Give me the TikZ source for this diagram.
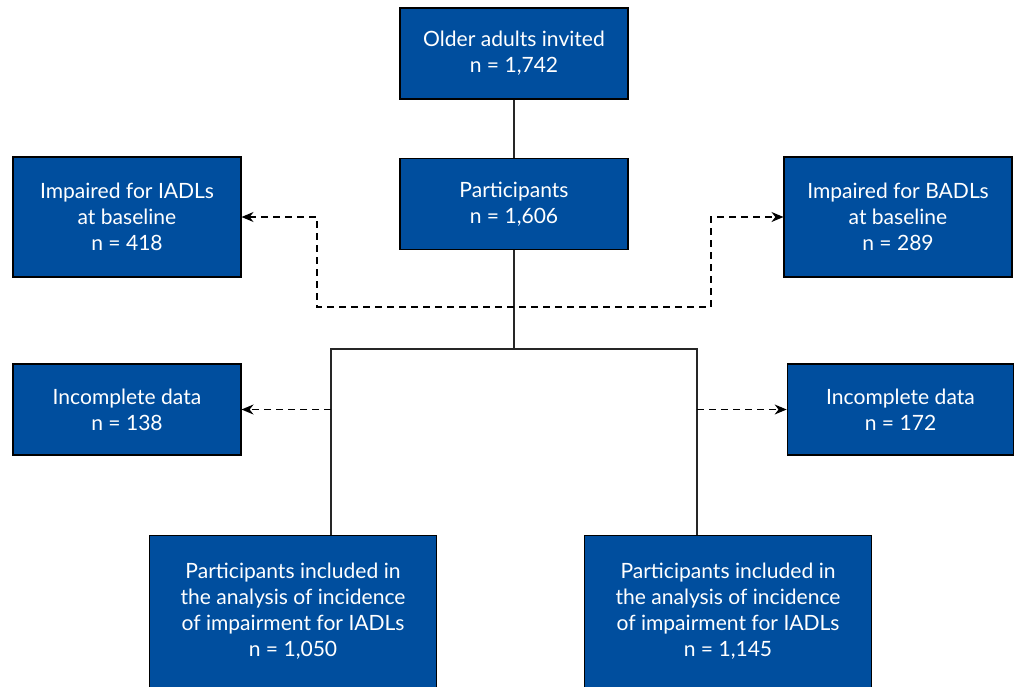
\documentclass[tikz,border=0pt]{standalone}
\usepackage{fontspec}
\setmainfont{Lato}
\usetikzlibrary{arrows.meta}
\definecolor{boxblue}{RGB}{0,78,158}
\tikzset{
  flowbox/.style={draw=black,fill=boxblue,text=white,align=center,
    inner sep=0pt,line width=0.8pt,font=\fontsize{15.8}{19.5}\selectfont},
  smallbox/.style={flowbox,minimum width=171pt,minimum height=68.25pt},
  tallbox/.style={flowbox,minimum width=171pt,minimum height=90pt},
  widebox/.style={flowbox,minimum width=215.25pt,minimum height=114pt},
  link/.style={draw=black!85,line width=0.9pt},
  droplink/.style={draw=black,line width=1pt,dash pattern=on 5.5pt off 3.5pt},
  droptip/.style={-{Stealth[length=9pt,width=7.5pt]}},
}

\begin{document}
\begin{tikzpicture}[x=0.75pt,y=-0.75pt]
\useasboundingbox (0,0) rectangle (1017,686);
% boxes
\node[smallbox] (invited) at (514,53.5) {Older adults invited\\n = 1,742};
\node[smallbox] (part) at (514,204) {Participants\\n = 1,606};
\node[tallbox] (iadl) at (127,217) {Impaired for IADLs\\at baseline\\n = 418};
\node[tallbox] (badl) at (898,217) {Impaired for BADLs\\at baseline\\n = 289};
\node[smallbox] (incL) at (127,409.5) {Incomplete data\\n = 138};
\node[smallbox,minimum width=170pt] (incR) at (900.5,409.5) {Incomplete data\\n = 172};
\node[widebox] (anaL) at (293,611.5) {Participants included in\\the analysis of incidence\\of impairment for IADLs\\n = 1,050};
\node[widebox] (anaR) at (728,611.5) {Participants included in\\the analysis of incidence\\of impairment for IADLs\\n = 1,145};
% junctions
\coordinate (split) at (514,349);
\coordinate (splitL) at (331,349);
\coordinate (splitR) at (697,349);
\coordinate (dropL) at (317,307);
\coordinate (dropR) at (711,307);
% solid flow
\draw[link] (invited) -- (part);
\draw[link] (part) -- (split);
\draw[link] (splitL |- anaL.north) -- (splitL) -- (splitR) -- (splitR |- anaR.north);
% dashed exclusions
\draw[droplink,{Stealth[length=9pt,width=7.5pt]}-{Stealth[length=9pt,width=7.5pt]}]
  (iadl) -| (dropL) -- (dropR) |- (badl);
\draw[droplink,droptip] (splitL |- incL) -- (incL);
\draw[droplink,droptip] (splitR |- incR) -- (incR);
\end{tikzpicture}
\end{document}
